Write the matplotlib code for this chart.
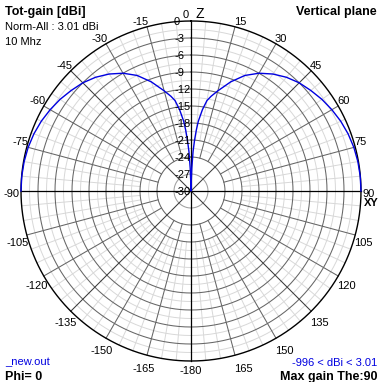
import numpy as np
import matplotlib
matplotlib.use("Agg")
import matplotlib.pyplot as plt

# pattern (elevation from zenith, deg -> gain in dB, normalised)
theta_deg = [0, 1, 2, 3, 4, 5, 6, 8, 10, 12, 15, 20, 25, 30, 35, 40, 45,
             50, 55, 60, 65, 70, 75, 80, 85, 90]
gain_db = [-30, -29, -26, -23, -21, -19.2, -17.6, -15.5, -13.8, -12.9, -11.7,
           -9.5, -7.5, -6.0, -4.8, -3.8, -3.0, -2.4, -1.8, -1.3, -0.85, -0.5,
           -0.25, -0.1, -0.02, 0]

db_ticks = [0, -3, -6, -9, -12, -15, -18, -21, -24, -27, -30]
angle_ticks = list(range(-165, 181, 15))

W = 382
cx, cy, R = 191, 191, 170
fig = plt.figure(figsize=(W / 100, W / 100), dpi=100)
ax = fig.add_axes([(cx - R) / W, (W - cy - R) / W, 2 * R / W, 2 * R / W],
                  projection="polar")
ax.set_theta_zero_location("N")
ax.set_theta_direction(-1)
ax.set_ylim(-30, 0)
ax.axis("off")

plt.rcParams["font.family"] = ["Liberation Sans", "DejaVu Sans"]

full = np.linspace(0, 2 * np.pi, 721)
dark = "#666666"
light = "#d8d8d8"

# light rings / spokes
for v in np.arange(-22.5, 0, 3):
    ax.plot(full, np.full_like(full, v), color=light, lw=0.7, clip_on=False, zorder=1)
for a in range(0, 360, 5):
    if a % 15:
        ax.plot([np.radians(a)] * 2, [-21, 0], color=light, lw=0.7, clip_on=False, zorder=1)

# dark rings
for v in db_ticks[1:-1]:
    c = "#a0a0a0" if v == -27 else dark
    ax.plot(full, np.full_like(full, v), color=c, lw=0.75, clip_on=False, zorder=2)

# dark spokes
for a in range(0, 360, 15):
    if a % 90 == 0:
        continue
    start = -30 if a % 45 == 0 else -24
    col = "#3a3a3a" if a % 45 == 0 else dark
    ax.plot([np.radians(a)] * 2, [start, 0], color=col, lw=0.75, clip_on=False, zorder=2)
for a in (0, 90, 180, 270):
    ax.plot([np.radians(a)] * 2, [-30, 0], color="black", lw=0.9, clip_on=False, zorder=3)

# outer ring
ax.plot(full, np.zeros_like(full), color="black", lw=1.0, clip_on=False, zorder=3)

# pattern, both sides of zenith
th = np.radians(theta_deg)
g = np.array(gain_db)
ax.plot(np.concatenate([-th[::-1], th]), np.concatenate([g[::-1], g]),
        color="#0000e0", lw=1.0, clip_on=False, zorder=4)

fs = 8
# dB labels along the vertical axis
for v in db_ticks:
    ax.annotate(str(v), xy=(0, v), xytext=(-17, -1), textcoords="offset pixels",
                ha="left", va="center", fontsize=fs, annotation_clip=False, zorder=5)

# angle labels
for a in angle_ticks:
    t = np.radians(a)
    s, c = np.sin(t), np.cos(t)
    if a == 0:
        continue
    if a == 180:
        lab, ha, va, off = "-180", "center", "top", (0, -5)
    elif a == 90:
        lab, ha, va, off = "90", "left", "baseline", (1, -6)
    elif a == -90:
        lab, ha, va, off = "-90", "right", "baseline", (-2, -6)
    elif c > 0:
        lab = str(a)
        ha = "left" if s > 0 else "right"
        va = "bottom"
        off = (-1 if s > 0 else 2, 0)
    else:
        lab = str(a)
        ha = "left" if s > 0 else "right"
        va = "top"
        off = (-1 if s > 0 else 8 * abs(c), -(1 + 8 * abs(c)))
    ax.annotate(lab, xy=(t, 0), xytext=off, textcoords="offset pixels",
                ha=ha, va=va, fontsize=fs, annotation_clip=False)


def px(x, y, s, **kw):
    fig.text(x / W, 1 - y / W, s, va="baseline", **kw)


px(189, 18, "0", ha="right", fontsize=fs)
px(196, 18, "Z", ha="left", fontsize=10)
px(364, 206, "XY", ha="left", fontsize=8, fontweight="bold")

px(5, 14.5, "Tot-gain [dBi]", ha="left", fontsize=9, fontweight="bold")
px(5, 29.5, "Norm-All : 3.01 dBi", ha="left", fontsize=fs)
px(5, 45, "10 Mhz", ha="left", fontsize=fs)
px(377, 15, "Vertical plane", ha="right", fontsize=9, fontweight="bold")
px(5, 365, "_new.out", ha="left", fontsize=fs, color="#0000e0")
px(5, 380, "Phi= 0", ha="left", fontsize=9, fontweight="bold")
px(377, 366, "-996 < dBi < 3.01", ha="right", fontsize=fs, color="#0000e0")
px(378, 380, "Max gain The:90", ha="right", fontsize=9, fontweight="bold")

fig.savefig("out.png", dpi=100, facecolor="white")
